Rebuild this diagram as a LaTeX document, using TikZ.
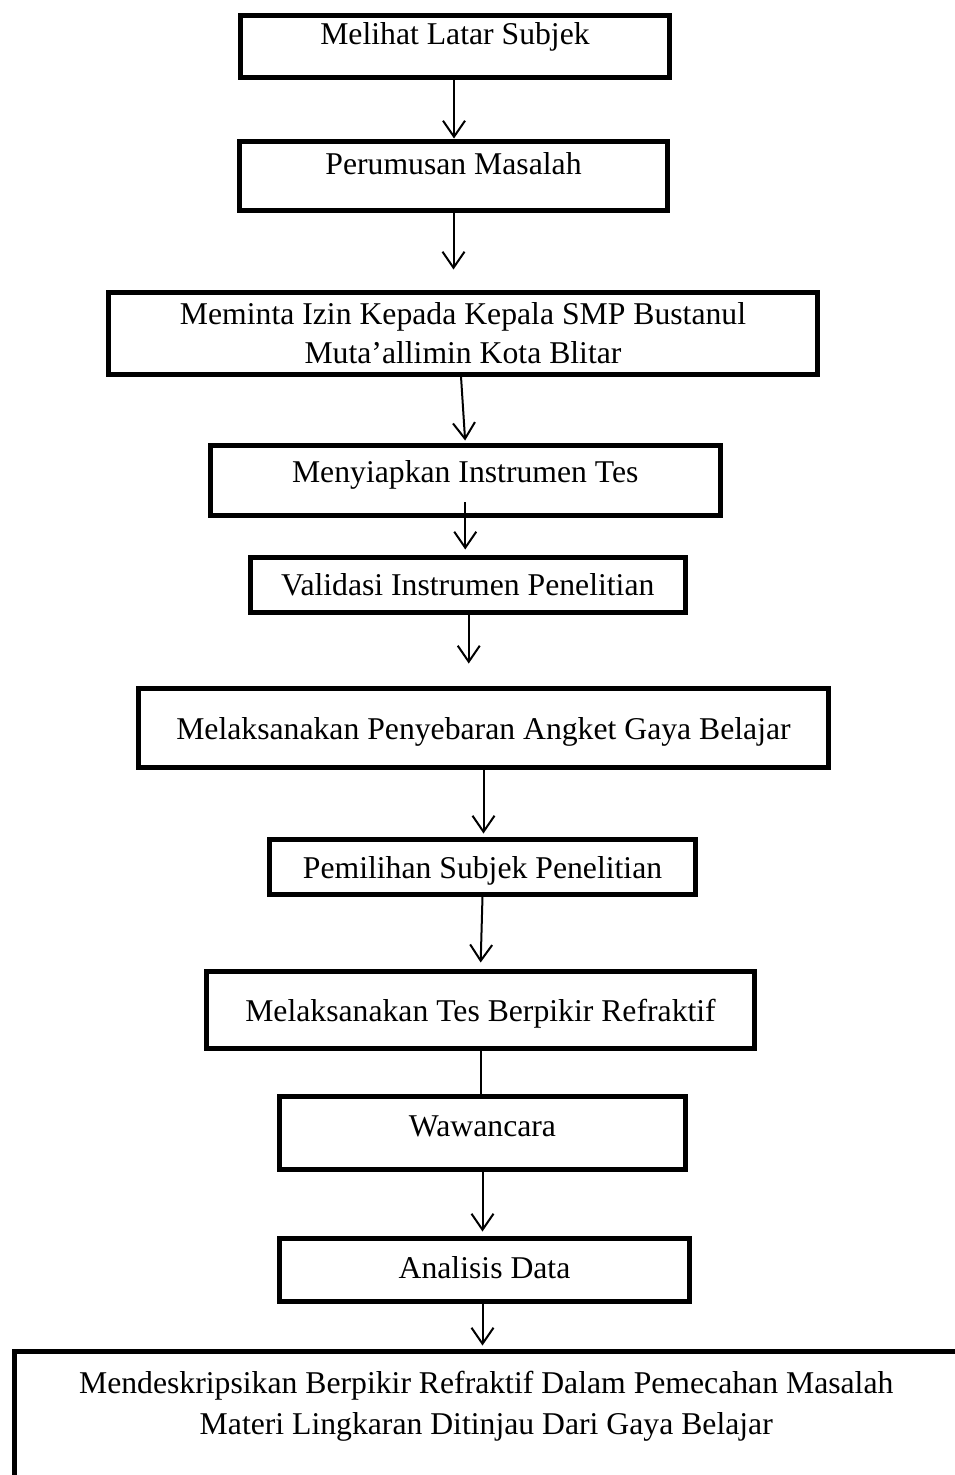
\documentclass[tikz,border=0pt]{standalone}
\usepackage{fontspec}
\setmainfont{Liberation Serif}
\usetikzlibrary{arrows.meta,calc}
\tikzset{
  box/.style={draw, rectangle, line width=5pt, line join=miter, inner sep=0pt,
    align=center, anchor=north, font=\fontsize{31.7}{39}\selectfont},
  arr/.style={line width=2pt, -{Straight Barb[length=16pt,width=22pt]}},
  link/.style={line width=2pt}
}
\begin{document}
\begin{tikzpicture}[x=1pt,y=-1pt]
\clip (0,0) rectangle (955,1475);
\fill[white] (0,0) rectangle (955,1475);

\node[box, minimum width=429pt, text height=29.8pt, text depth=32.2pt] (b1) at (455,12.5) {Melihat Latar Subjek};
\node[box, minimum width=428pt, text height=33.2pt, text depth=35.8pt] (b2) at (453.5,138.5) {Perumusan Masalah};
\node[box, minimum width=709pt, text height=71pt, text depth=11pt] (b3) at (463,289.5) {Meminta Izin Kepada Kepala SMP Bustanul\\Muta’allimin Kota Blitar};
\node[box, minimum width=510.5pt, text height=37.5pt, text depth=32.5pt] (b4) at (465.25,442.5) {Menyiapkan Instrumen Tes};
\node[box, minimum width=434.5pt, text height=38.5pt, text depth=16.5pt] (b5) at (467.75,554.5) {Validasi Instrumen Penelitian};
\node[box, minimum width=690pt, text height=51.2pt, text depth=27.8pt] (b6) at (483.5,685.5) {Melaksanakan Penyebaran Angket Gaya Belajar};
\node[box, minimum width=426pt, text height=39.5pt, text depth=15.5pt] (b7) at (482.5,836.5) {Pemilihan Subjek Penelitian};
\node[box, minimum width=548pt, text height=50.5pt, text depth=26.5pt] (b8) at (480.5,968.5) {Melaksanakan Tes Berpikir Refraktif};
\node[box, minimum width=406pt, text height=40.5pt, text depth=32.5pt] (b9) at (482.5,1093.5) {Wawancara};
\node[box, minimum width=410pt, text height=40.5pt, text depth=22.5pt] (b10) at (484.5,1235.5) {Analisis Data};
\node[box, minimum width=943.5pt, text height=83.5pt, text depth=48pt, font=\fontsize{31.7}{41}\selectfont] (b11) at (486.25,1348.5) {Mendeskripsikan Berpikir Refraktif Dalam Pemecahan Masalah\\Materi Lingkaran Ditinjau Dari Gaya Belajar};

\draw[arr] ([xshift=-1pt]b1.south) -- ([xshift=-1pt]b1.south |- b2.north);
\draw[arr, shorten >=20pt] (b2.south) -- (b2.south |- b3.north);
\draw[arr, shorten >=2pt] ([xshift=-2pt]b3.south) -- (b4.north);
\draw[arr, shorten >=5pt] ([yshift=15.5pt]b4.south) -- (b4.south |- b5.north);
\draw[arr, shorten >=22pt] ([xshift=1pt]b5.south) -- ([xshift=1pt]b5.south |- b6.north);
\draw[arr, shorten >=3pt] (b6.south) -- (b6.south |- b7.north);
\draw[arr, shorten >=6pt] (b7.south) -- (b8.north);
\draw[link] (b8.south) -- (b8.south |- b9.north);
\draw[arr, shorten >=4pt] (b9.south) -- (b9.south |- b10.north);
\draw[arr, shorten >=3pt] ([xshift=-2pt]b10.south) -- ([xshift=-2pt]b10.south |- b11.north);
\end{tikzpicture}
\end{document}
